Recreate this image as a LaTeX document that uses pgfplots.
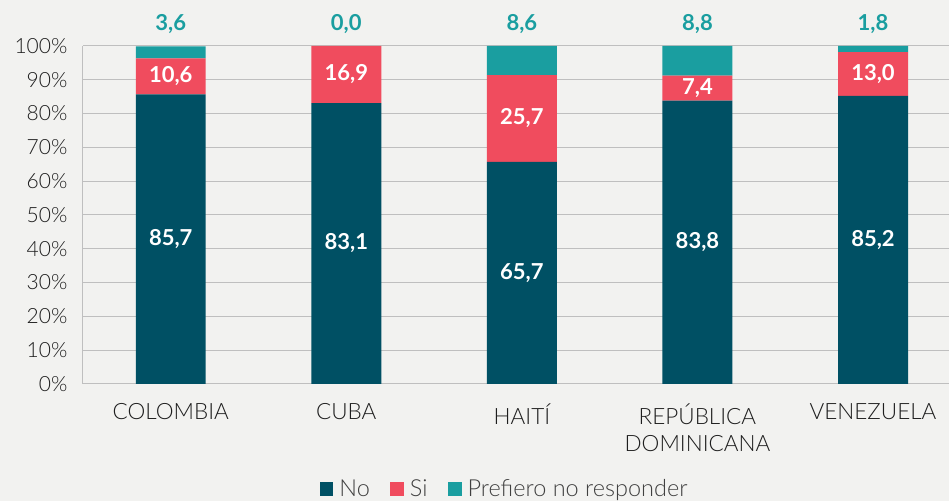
\documentclass[border=0pt]{standalone}
\usepackage{pgfplots}
\pgfplotsset{compat=1.18}
\usepackage{fontspec}
\setmainfont{Lato}
\newfontfamily\lightfont{Lato Light}
\definecolor{bg}{HTML}{F2F2F0}
\definecolor{cNo}{HTML}{005064}
\definecolor{cSi}{HTML}{F04C5E}
\definecolor{cPr}{HTML}{1A9EA0}
\definecolor{gridc}{HTML}{BFBFBF}
\definecolor{txt}{HTML}{1E1E1E}
\pgfplotsset{
  common/.style={at={(0,0)}, anchor=south west,
    scale only axis, width=866pt, height=338pt,
    xmin=-0.5, xmax=4.43, ymin=0, ymax=100, clip=false},
  lbl/.style={draw=none, mark=none, nodes near coords, point meta=explicit symbolic,
    every node near coord/.style={font=\bfseries\fontsize{22}{24}\selectfont, #1}}
}
\begin{document}
\begin{tikzpicture}
\fill[bg] (-83pt,-117pt) rectangle (866pt,384pt);
\begin{axis}[
  common,
  ybar stacked, bar width=70pt,
  xtick=data,
  xticklabels={COLOMBIA,CUBA,HAITÍ,{REPÚBLICA\\DOMINICANA},VENEZUELA},
  xticklabel style={align=center, font=\lightfont\fontsize{22.5}{27}\selectfont, text=txt, yshift=-16pt},
  ytick={0,10,...,100},
  yticklabel={\pgfmathprintnumber{\tick}\%},
  yticklabel style={font=\lightfont\fontsize{21}{24}\selectfont, text=txt, xshift=-12pt},
  /pgf/number format/assume math mode=true,
  major tick length=0pt,
  axis y line*=left, axis x line*=bottom,
  x axis line style={draw=none},
  y axis line style={draw=gridc, line width=1pt},
  ymajorgrids, grid style={gridc, line width=1pt},
  legend style={at={(0.487,-0.31)}, anchor=center, legend columns=3, draw=none, fill=none,
    font=\lightfont\fontsize{23.5}{26}\selectfont, text=txt!85,
    /tikz/every odd column/.append style={column sep=4pt},
    /tikz/every even column/.append style={column sep=18pt}},
  legend image code/.code={\fill (0pt,-7pt) rectangle (14pt,7pt);},
]
\addplot[fill=cNo, draw=none]
  coordinates {(0,85.7) (1,83.1) (2,65.7) (3,83.8) (4,85.2)};
\addplot[fill=cSi, draw=none]
  coordinates {(0,10.6) (1,16.9) (2,25.7) (3,7.4) (4,13.0)};
\addplot[fill=cPr, draw=none]
  coordinates {(0,3.6) (1,0.0) (2,8.6) (3,8.8) (4,1.8)};
\legend{No,Si,Prefiero no responder}
\end{axis}
\begin{axis}[common, hide axis]
\addplot[lbl={text=white, anchor=center}] coordinates {
  (0,42.85) [85,7] (1,41.55) [83,1] (2,32.85) [65,7] (3,41.9) [83,8] (4,42.6) [85,2]};
\addplot[lbl={text=white, anchor=center}] coordinates {
  (0,91.0) [10,6] (1,91.55) [16,9] (2,78.55) [25,7] (3,87.5) [7,4] (4,91.7) [13,0]};
\addplot[lbl={text=cPr, anchor=south, yshift=9pt}] coordinates {
  (0,100) [3,6] (1,100) [0,0] (2,100) [8,6] (3,100) [8,8] (4,100) [1,8]};
\end{axis}
\end{tikzpicture}
\end{document}
